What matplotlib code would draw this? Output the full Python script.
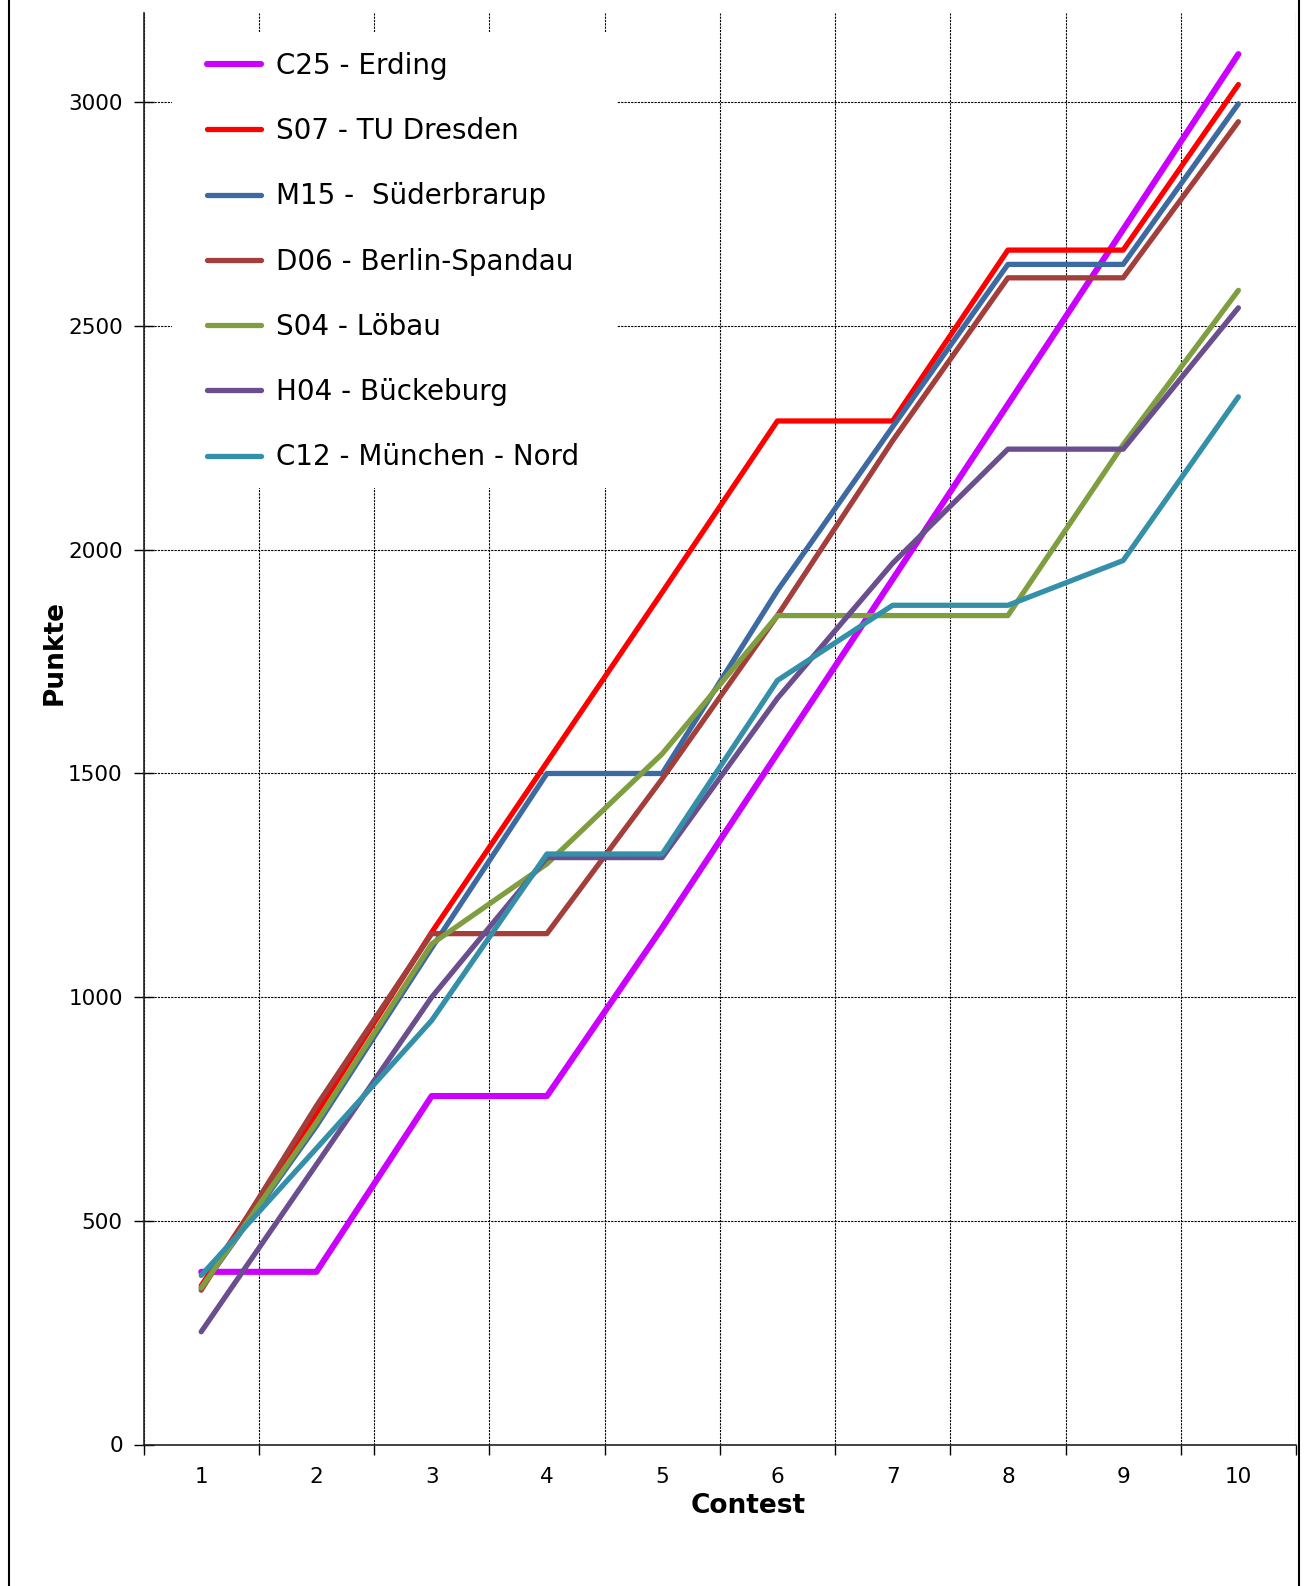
import matplotlib
matplotlib.use("Agg")
import matplotlib.pyplot as plt
from matplotlib.lines import Line2D
from matplotlib.patches import Rectangle
from matplotlib.ticker import FixedLocator, NullFormatter

# Punkte nach Contest (kumuliert)
contests = [1, 2, 3, 4, 5, 6, 7, 8, 9, 10]
names = ["C25 - Erding", "S07 - TU Dresden", "M15 -  Süderbrarup",
         "D06 - Berlin-Spandau", "S04 - Löbau", "H04 - Bückeburg",
         "C12 - München - Nord"]
c25 = [386, 386, 779, 779, 1155, 1545, 1934, 2325, 2716, 3108]
s07 = [355, 740, 1145, 1525, 1905, 2288, 2288, 2670, 2670, 3040]
m15 = [350, 712, 1110, 1500, 1500, 1909, 2275, 2638, 2638, 2997]
d06 = [345, 757, 1142, 1142, 1488, 1853, 2244, 2608, 2608, 2957]
s04 = [350, 720, 1119, 1298, 1544, 1853, 1853, 1853, 2235, 2580]
h04 = [252, 626, 1000, 1312, 1312, 1668, 1970, 2225, 2225, 2541]
c12 = [378, 662, 948, 1320, 1320, 1708, 1876, 1876, 1976, 2342]
series = [c25, s07, m15, d06, s04, h04, c12]
colors = ["#CC00FF", "#FF0000", "#3D6AA2", "#A33E3B", "#7E9E40", "#6A4E8E", "#3490A8"]

plt.rcParams["font.family"] = ["DejaVu Sans"]

W, H = 1308, 1586
fig = plt.figure(figsize=(W / 100, H / 100), dpi=100)
left, right, top, bottom = 143.6, 1296, 13, 1444.5
ax = fig.add_axes([left / W, 1 - bottom / H, (right - left) / W, (bottom - top) / H])

for vals, name, c in zip(series, names, colors):
    lw = 4.4 if c == "#CC00FF" else 3.8
    ax.plot(contests, vals, color=c, lw=lw, label=name, zorder=3,
            solid_capstyle="round", solid_joinstyle="round")

ax.set_xlim(0.5, 10.5)
ax.set_ylim(0, 3200)

# boundaries between contests carry ticks + grid, labels sit at the centres
ax.xaxis.set_major_locator(FixedLocator([i + 0.5 for i in range(0, 11)]))
ax.xaxis.set_major_formatter(NullFormatter())
ax.xaxis.set_minor_locator(FixedLocator(contests))
ax.set_xticklabels([str(c) for c in contests], minor=True)
ax.tick_params(axis="x", which="major", direction="out", length=7, width=1)
ax.tick_params(axis="x", which="minor", length=0, pad=16, labelsize=15.5)

ax.set_yticks(range(0, 3001, 500))
ax.tick_params(axis="y", direction="inout", length=14, width=1, pad=8, labelsize=15.5)

ax.grid(True, which="major", color="black", linestyle=(0, (2.0, 1.0)), linewidth=0.8)
ax.set_axisbelow(True)
for s in ("top", "right"):
    ax.spines[s].set_visible(False)
for s in ("left", "bottom"):
    ax.spines[s].set_linewidth(1.2)
    ax.spines[s].set_color("#222222")

ax.set_xlabel("Contest", fontsize=19, fontweight="bold")
ax.xaxis.set_label_coords((748 - left) / (right - left), -0.034)
ax.set_ylabel("Punkte", fontsize=19, fontweight="bold")
ax.yaxis.set_label_coords(-0.066, 0.5536)

# white legend area covering the grid
ax.add_patch(Rectangle((172 / W, 1 - 488 / H), (617 - 172) / W, (488 - 32) / H,
                       transform=fig.transFigure, facecolor="white",
                       edgecolor="none", zorder=2))
leg = ax.legend(loc="upper left", bbox_to_anchor=(207 / W, 1 - 52 / H),
                bbox_transform=fig.transFigure, frameon=False, fontsize=20,
                borderpad=0, borderaxespad=0, handlelength=1.95,
                handletextpad=0.55, labelspacing=1.34)
leg.set_zorder(4)

# outer frame (left/right edges only)
for x in (8.5, 1299):
    fig.add_artist(Line2D([x / W, x / W], [0, 1], color="black", lw=1.5,
                          transform=fig.transFigure))

fig.savefig("out.png", dpi=100)
